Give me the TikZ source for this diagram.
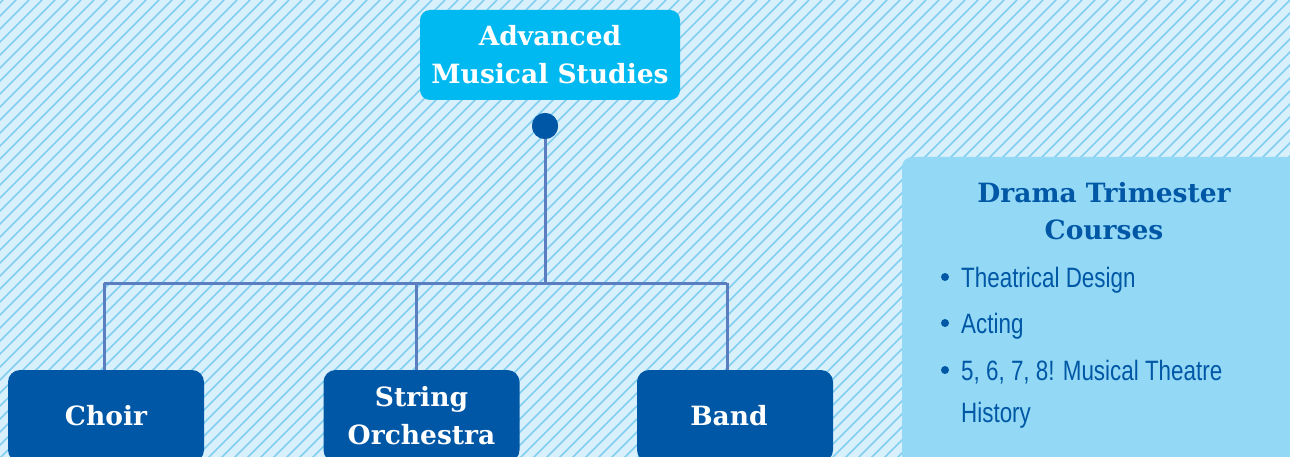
\documentclass[tikz,border=0pt]{standalone}
\usepackage{fontspec}
\newfontfamily\boxfont[Scale=1]{DejaVu Serif}
\newfontfamily\listfont[FakeStretch=0.8]{Liberation Sans}
\definecolor{bgc}{HTML}{D8F0FB}
\definecolor{stripec}{HTML}{80CFF2}
\definecolor{topc}{HTML}{00B9F0}
\definecolor{darkc}{HTML}{0057A5}
\definecolor{linec}{HTML}{5B7EC0}
\definecolor{panelc}{HTML}{93D8F5}
\tikzset{
  x=1pt, y=-1pt,
  topbox/.style={fill=topc, rounded corners=10pt, minimum width=260pt, minimum height=90pt, text=white, font=\boxfont\bfseries\fontsize{26.5}{38}\selectfont, align=center, inner sep=0pt},
  leafbox/.style={fill=darkc, rounded corners=12pt, minimum width=196pt, minimum height=92pt, text=white, font=\boxfont\bfseries\fontsize{26.5}{38}\selectfont, align=center, inner sep=0pt},
  conn/.style={draw=linec, line width=3pt},
  dotc/.style={circle, fill=darkc, minimum size=26pt, inner sep=0pt},
  paneltitle/.style={text=darkc, font=\boxfont\bfseries\fontsize{26.5}{37}\selectfont, align=center, inner sep=0pt},
  item/.style={text=darkc, font=\listfont\fontsize{28}{42}\selectfont, align=left, inner sep=0pt, anchor=base west},
  bul/.style={circle, fill=darkc, minimum size=8pt, inner sep=0pt},
}
\begin{document}
\begin{tikzpicture}
\useasboundingbox (0,0) rectangle (1290,457);
\begin{scope}
\clip (0,0) rectangle (1290,457);
\fill[bgc] (0,0) rectangle (1290,457);
\foreach \i in {-470,-457,...,1300} {
  \draw[stripec, line width=1.7pt] (\i,460) -- (\i+460,0);
}
% panel
\fill[panelc, rounded corners=10pt] (902,157) rectangle (1310,480);
\node[paneltitle] (ptitle) at (1104,211) {Drama Trimester\\Courses};
\node[bul] (b1) at (945,277) {};
\node[bul] (b2) at (945,323) {};
\node[bul] (b3) at (945,370) {};
\node[item] (i1) at (961,287) {Theatrical Design};
\node[item] (i2) at (961,333) {Acting};
\node[item] (i3) at (961,422) {5, 6, 7, 8! Musical Theatre\\History};
% tree
\node[topbox] (top) at (550,55) {Advanced\\Musical Studies};
\node[leafbox] (choir) at (106,416) {Choir};
\node[leafbox] (string) at (421.5,416) {String\\Orchestra};
\node[leafbox] (band) at (735,416) {\hspace*{-12pt}Band};
\coordinate (jc) at (545,283);
\coordinate (j1) at (104,283);
\coordinate (j2) at (416,283);
\coordinate (j3) at (727,283);
\node[dotc] (dot) at (545,126) {};
\draw[conn] (dot.center) -- (jc);
\draw[conn] (j1) -- (j3);
\draw[conn] (j1) -- (j1 |- choir.north);
\draw[conn] (j2) -- (j2 |- string.north);
\draw[conn] (j3) -- (j3 |- band.north);
\node[dotc] at (dot) {};
\end{scope}
\end{tikzpicture}
\end{document}
